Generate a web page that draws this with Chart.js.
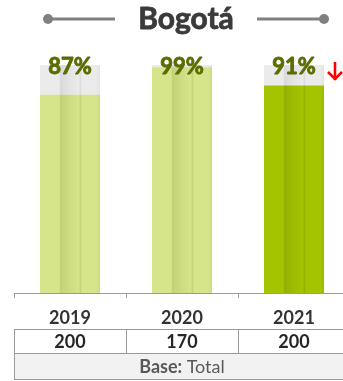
<!DOCTYPE html>
<html>
<head>
<meta charset="utf-8">
<script src="https://cdn.jsdelivr.net/npm/chart.js@4"></script>
<style>
  html, body { margin: 0; padding: 0; background: #fff; overflow: hidden; }
  #wrap { width: 343px; height: 381px; overflow: hidden; position: relative; }
  #wrap canvas { position: absolute; left: 0; top: 0; }
</style>
</head>
<body>
<div id="wrap"><canvas id="chart" width="364" height="381"></canvas></div>
<script>
const city = "Bogotá";
const years = ["2019", "2020", "2021"];
const satisfied = [87, 99, 91];
const baseSizes = [200, 170, 200];
const trendMarks = [null, null, "down"];
const baseLabel = ["Base:", "Total"];

const FONT = "Lato, 'Open Sans', sans-serif";
const BAR_PCT = 0.536;

// column look: three vertical strips, the middle one shaded at its left edge
function stripes(base, dark, mid) {
  return (ctx) => {
    const chart = ctx.chart;
    const xs = chart.scales.x;
    if (ctx.type !== "data" || !xs) return base;
    const cx = xs.getPixelForValue(ctx.dataIndex);
    if (!isFinite(cx)) return base;
    const w = (xs.right - xs.left) / years.length * BAR_PCT;
    const g = chart.ctx.createLinearGradient(cx - w / 2, 0, cx + w / 2, 0);
    g.addColorStop(0, base);
    g.addColorStop(0.32, base);
    g.addColorStop(0.34, dark);
    g.addColorStop(0.47, mid);
    g.addColorStop(0.65, base);
    g.addColorStop(0.67, dark);
    g.addColorStop(0.70, base);
    g.addColorStop(0.94, base);
    g.addColorStop(1, mid);
    return g;
  };
}

const lightFill = stripes("#d6e58c", "#c2d174", "#ccdb80");
const strongFill = stripes("#a5c400", "#92b000", "#9cbb00");
const trackFill = stripes("#ebebeb", "#dadada", "#e2e2e2");

// filled text with a thin outline in the same colour, for a heavier weight
function heavyText(ctx, text, x, y, color, stroke) {
  ctx.fillStyle = color;
  ctx.strokeStyle = color;
  ctx.lineWidth = stroke;
  ctx.lineJoin = "round";
  ctx.strokeText(text, x, y);
  ctx.fillText(text, x, y);
}

const overlay = {
  id: "overlay",
  afterDraw(chart) {
    const ctx = chart.ctx;
    const xs = chart.scales.x;
    const ys = chart.scales.y;
    const slot = (xs.right - xs.left) / years.length;
    ctx.save();

    // title with rules and dots on both sides
    const tx = (xs.left + xs.right) / 2 + 4;
    const ty = 19;
    ctx.font = "bold 30px " + FONT;
    ctx.textAlign = "center";
    ctx.textBaseline = "alphabetic";
    heavyText(ctx, city, tx, 29, "#3a3a3a", 0.8);
    ctx.strokeStyle = "#808080";
    ctx.fillStyle = "#808080";
    ctx.lineWidth = 3;
    [-1, 1].forEach((s) => {
      ctx.beginPath();
      ctx.moveTo(tx + s * 71, ty);
      ctx.lineTo(tx + s * 138, ty);
      ctx.stroke();
      ctx.beginPath();
      ctx.arc(tx + s * 138, ty, 5, 0, Math.PI * 2);
      ctx.fill();
    });

    // percentage labels and trend arrows
    const meta = chart.getDatasetMeta(1);
    const labelY = ys.getPixelForValue(100) + 9;
    meta.data.forEach((bar, i) => {
      ctx.font = "bold 22px " + FONT;
      ctx.textAlign = "center";
      ctx.textBaseline = "alphabetic";
      heavyText(ctx, satisfied[i] + "%", bar.x, labelY, "#5b6d00", 0.9);
      if (trendMarks[i] === "down") {
        const ax = bar.x + 41;
        const ay = labelY - 12;
        ctx.strokeStyle = "#ff0000";
        ctx.lineWidth = 2.6;
        ctx.lineCap = "butt";
        ctx.lineJoin = "miter";
        ctx.beginPath();
        ctx.moveTo(ax, ay);
        ctx.lineTo(ax, ay + 18);
        ctx.stroke();
        ctx.beginPath();
        ctx.moveTo(ax - 7, ay + 10);
        ctx.lineTo(ax, ay + 17);
        ctx.lineTo(ax + 7, ay + 10);
        ctx.stroke();
      }
    });

    // base table under the axis
    const top = xs.top + 36.5;
    const mid = top + 24;
    const bottom = mid + 26;
    ctx.fillStyle = "#f2f2f2";
    ctx.fillRect(xs.left, mid, xs.right - xs.left, bottom - mid);
    ctx.strokeStyle = "#9a9a9a";
    ctx.lineWidth = 1;
    ctx.beginPath();
    [top, mid, bottom].forEach((y) => {
      ctx.moveTo(xs.left, y);
      ctx.lineTo(xs.right, y);
    });
    for (let i = 0; i <= years.length; i++) {
      const x = Math.round(xs.left + i * slot) + 0.5;
      ctx.moveTo(x, top);
      ctx.lineTo(x, i === 0 || i === years.length ? bottom : mid);
    }
    ctx.stroke();

    ctx.font = "bold 18px " + FONT;
    ctx.fillStyle = "#262626";
    ctx.textAlign = "center";
    ctx.textBaseline = "middle";
    baseSizes.forEach((n, i) => {
      ctx.fillText(String(n), xs.getPixelForValue(i), (top + mid) / 2 + 1);
    });

    const boldFont = "bold 18px " + FONT;
    const plainFont = "18px " + FONT;
    ctx.font = boldFont;
    const w1 = ctx.measureText(baseLabel[0] + " ").width;
    ctx.font = plainFont;
    const w2 = ctx.measureText(baseLabel[1]).width;
    let bx = (xs.left + xs.right) / 2 - (w1 + w2) / 2;
    const by = (mid + bottom) / 2 + 1;
    ctx.textAlign = "left";
    ctx.fillStyle = "#595959";
    ctx.font = boldFont;
    ctx.fillText(baseLabel[0], bx, by);
    ctx.font = plainFont;
    ctx.fillText(baseLabel[1], bx + w1, by);

    ctx.restore();
  }
};

new Chart(document.getElementById("chart"), {
  type: "bar",
  data: {
    labels: years,
    datasets: [
      {
        label: "Total",
        data: years.map(() => 100),
        backgroundColor: trackFill,
        grouped: false,
        order: 2,
        barPercentage: BAR_PCT,
        categoryPercentage: 1
      },
      {
        label: "Satisfechos",
        data: satisfied,
        backgroundColor: (c) => (c.dataIndex === years.length - 1 ? strongFill(c) : lightFill(c)),
        grouped: false,
        order: 1,
        barPercentage: BAR_PCT,
        categoryPercentage: 1
      }
    ]
  },
  options: {
    responsive: false,
    animation: false,
    layout: { padding: { top: 65, left: 14, right: 14, bottom: 0 } },
    plugins: { legend: { display: false }, tooltip: { enabled: false } },
    scales: {
      x: {
        grid: { offset: true, drawOnChartArea: false, tickLength: 5, color: "#9a9a9a" },
        border: { color: "#9a9a9a" },
        ticks: { color: "#333333", font: { family: FONT, size: 18, weight: "bold" }, padding: 9 },
        afterFit(scale) { scale.height = 88; }
      },
      y: { display: false, min: 0, max: 100 }
    }
  },
  plugins: [overlay]
});
</script>
</body>
</html>
